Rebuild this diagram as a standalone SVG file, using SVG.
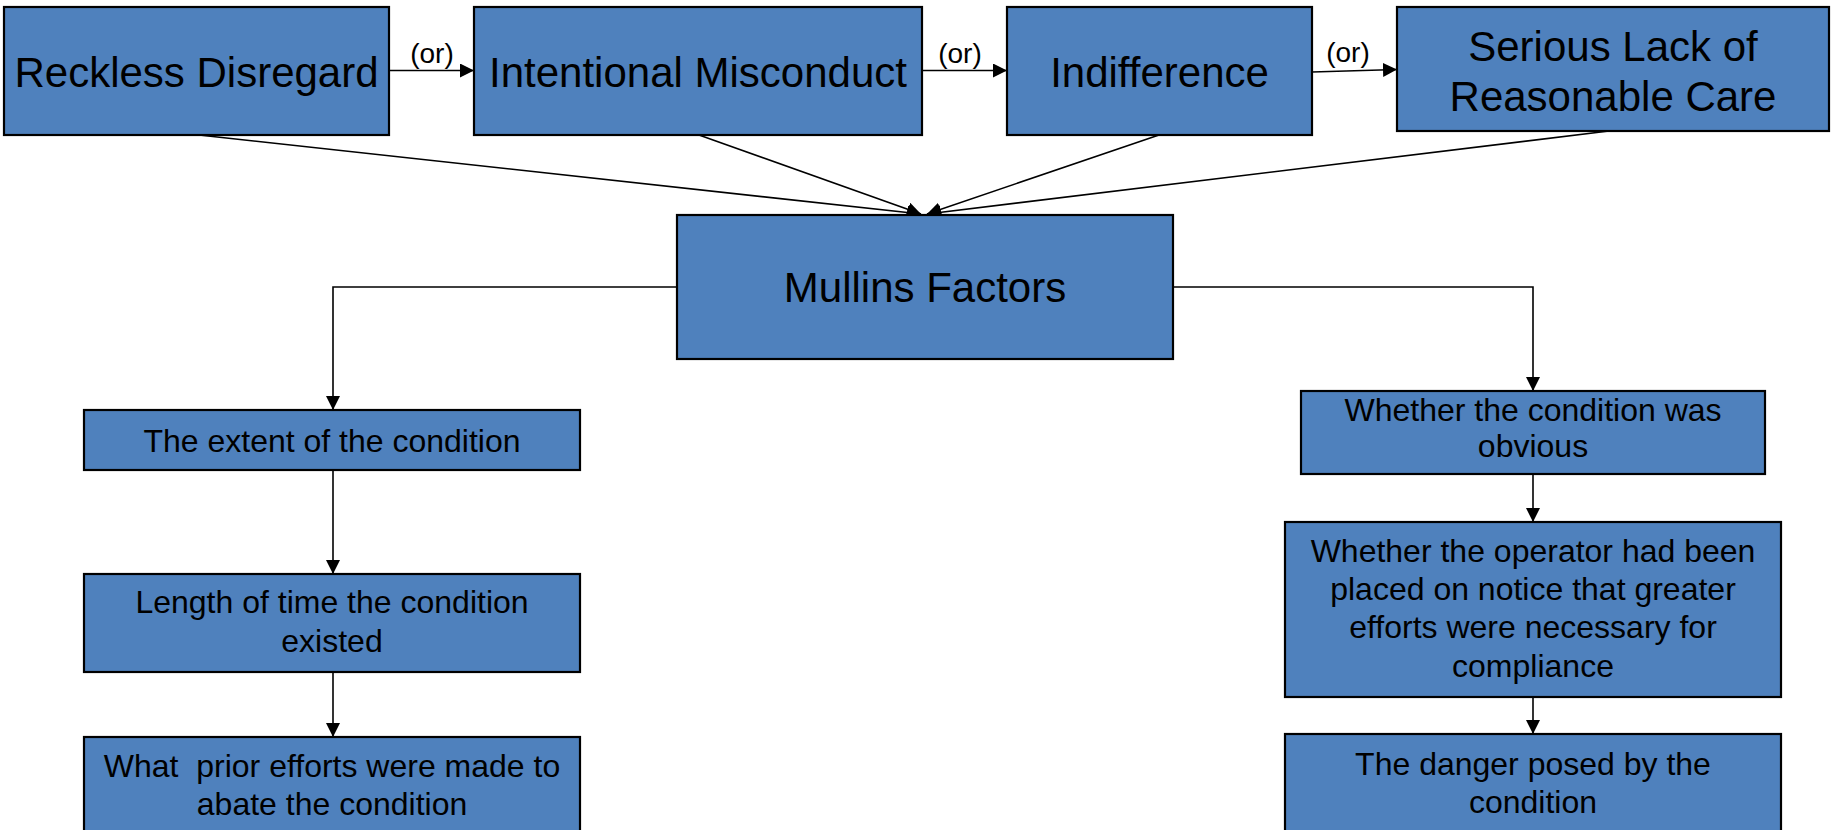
<svg xmlns="http://www.w3.org/2000/svg" width="1834" height="830" viewBox="0 0 1834 830">
<style>
.box{fill:#4F81BD;stroke:#000;stroke-width:2.2}
.t{font-family:"Liberation Sans",Arial,sans-serif;fill:#000;text-anchor:middle}
.big{font-size:42px}
.sm{font-size:32px}
.or{font-size:28px}
.ln{fill:none;stroke:#000;stroke-width:1.6}
</style>
<defs>
<marker id="ah" markerUnits="userSpaceOnUse" viewBox="0 0 14 14" refX="14" refY="7" markerWidth="14" markerHeight="14" orient="auto">
<path d="M0,0 L14,7 L0,14 z" fill="#000"/>
</marker>
</defs>
<rect width="1834" height="830" fill="#fff"/>
<g id="connectors">
<line class="ln" x1="389" y1="70.5" x2="474" y2="70.5" marker-end="url(#ah)"/>
<line class="ln" x1="922" y1="70.5" x2="1007" y2="70.5" marker-end="url(#ah)"/>
<line class="ln" x1="1312" y1="72" x2="1397" y2="69.5" marker-end="url(#ah)"/>
<line class="ln" x1="199" y1="135" x2="921" y2="214" marker-end="url(#ah)"/>
<line class="ln" x1="699" y1="135" x2="921" y2="214" marker-end="url(#ah)"/>
<line class="ln" x1="1159" y1="135" x2="927" y2="214" marker-end="url(#ah)"/>
<line class="ln" x1="1609" y1="131" x2="927" y2="214" marker-end="url(#ah)"/>
<polyline class="ln" points="677,287 333,287 333,410" marker-end="url(#ah)"/>
<polyline class="ln" points="1173,287 1533,287 1533,391" marker-end="url(#ah)"/>
<line class="ln" x1="333" y1="470" x2="333" y2="574" marker-end="url(#ah)"/>
<line class="ln" x1="333" y1="672" x2="333" y2="737" marker-end="url(#ah)"/>
<line class="ln" x1="1533" y1="474" x2="1533" y2="522" marker-end="url(#ah)"/>
<line class="ln" x1="1533" y1="697" x2="1533" y2="734" marker-end="url(#ah)"/>
<text class="t or" x="432" y="63">(or)</text>
<text class="t or" x="960" y="63">(or)</text>
<text class="t or" x="1348" y="62">(or)</text>
</g>
<g id="reckless">
<rect class="box" x="4" y="7" width="385" height="128"/>
<text class="t big" x="196.5" y="87">Reckless Disregard</text>
</g>
<g id="intentional">
<rect class="box" x="474" y="7" width="448" height="128"/>
<text class="t big" x="698" y="87">Intentional Misconduct</text>
</g>
<g id="indifference">
<rect class="box" x="1007" y="7" width="305" height="128"/>
<text class="t big" x="1159.5" y="87">Indifference</text>
</g>
<g id="serious">
<rect class="box" x="1397" y="7" width="432" height="124"/>
<text class="t big"><tspan x="1613" y="61">Serious Lack of</tspan><tspan x="1613" y="111">Reasonable Care</tspan></text>
</g>
<g id="mullins">
<rect class="box" x="677" y="215" width="496" height="144"/>
<text class="t big" x="925" y="302">Mullins Factors</text>
</g>
<g id="extent">
<rect class="box" x="84" y="410" width="496" height="60"/>
<text class="t sm" x="332" y="452">The extent of the condition</text>
</g>
<g id="length">
<rect class="box" x="84" y="574" width="496" height="98"/>
<text class="t sm"><tspan x="332" y="613">Length of time the condition</tspan><tspan x="332" y="652">existed</tspan></text>
</g>
<g id="prior">
<rect class="box" x="84" y="737" width="496" height="100"/>
<text class="t sm" xml:space="preserve"><tspan x="332" y="777">What  prior efforts were made to</tspan><tspan x="332" y="815">abate the condition</tspan></text>
</g>
<g id="obvious">
<rect class="box" x="1301" y="391" width="464" height="83"/>
<text class="t sm"><tspan x="1533" y="421">Whether the condition was</tspan><tspan x="1533" y="457">obvious</tspan></text>
</g>
<g id="notice">
<rect class="box" x="1285" y="522" width="496" height="175"/>
<text class="t sm"><tspan x="1533" y="562">Whether the operator had been</tspan><tspan x="1533" y="600">placed on notice that greater</tspan><tspan x="1533" y="638">efforts were necessary for</tspan><tspan x="1533" y="677">compliance</tspan></text>
</g>
<g id="danger">
<rect class="box" x="1285" y="734" width="496" height="103"/>
<text class="t sm"><tspan x="1533" y="775">The danger posed by the</tspan><tspan x="1533" y="813">condition</tspan></text>
</g>
</svg>
